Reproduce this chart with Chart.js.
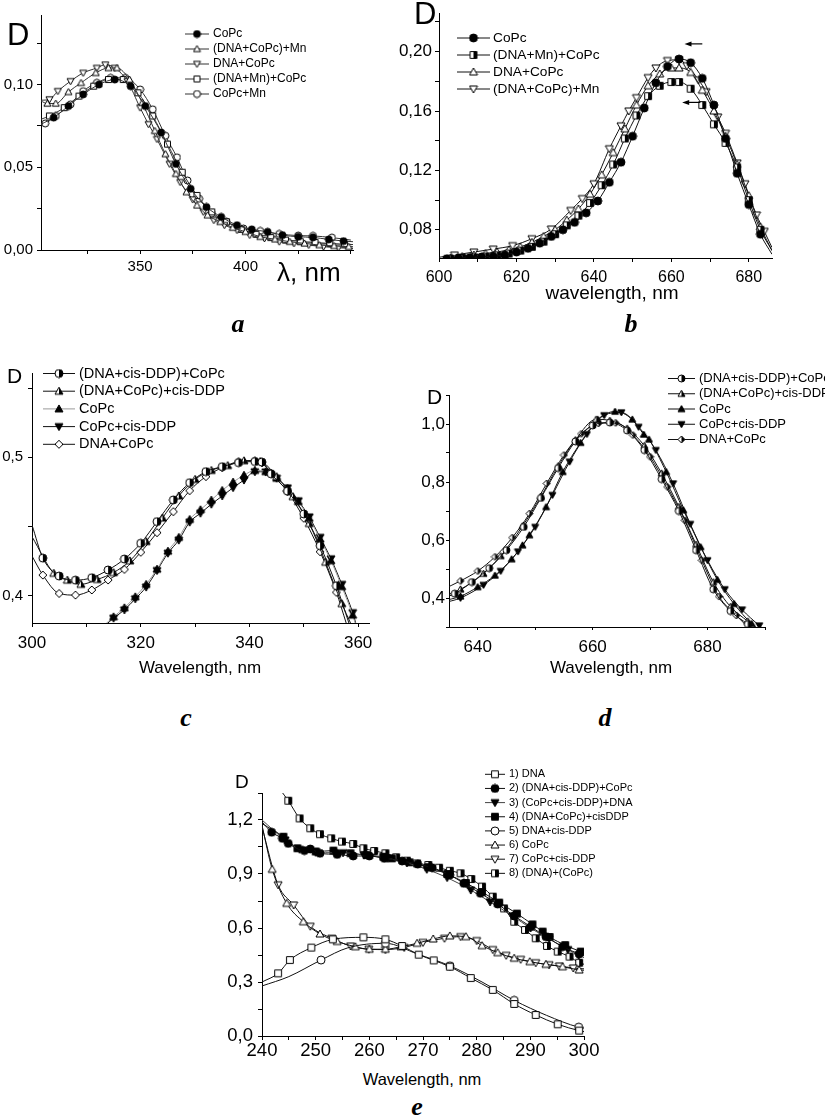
<!DOCTYPE html>
<html lang="en">
<head>
<meta charset="UTF-8">
<title>CoPc absorption spectra</title>
<script src="https://cdn.jsdelivr.net/npm/chart.js"></script>
<style>
  body { margin: 0; background: #fff; }
  #page { position: relative; width: 825px; height: 1119px; overflow: hidden; background: #fff; }
  canvas { position: absolute; }
  .lbl { position: absolute; white-space: nowrap; color: #000; line-height: 1; font-family: "Liberation Sans", Arial, sans-serif; }
  .letter { font-family: "Liberation Serif", "Times New Roman", serif; font-weight: bold; font-style: italic; }
</style>
</head>
<body>
<div id="page"></div>
<script>
// ---- panel a : 300-450 nm, Mn series
const aLabels = ['CoPc', '(DNA+CoPc)+Mn', 'DNA+CoPc', '(DNA+Mn)+CoPc', 'CoPc+Mn'];
const aXTicks = [350, 400];
const aYTicks = [0, 0.05, 0.10];
const aX1 = [303, 309, 316, 323, 330.5, 338, 345.5, 352.5, 360, 367, 374, 381.5, 388.5, 396, 403, 410.5, 417.5, 425, 432, 439.5, 446.5, 451];
const aY1 = [0.076, 0.080, 0.087, 0.094, 0.100, 0.103, 0.099, 0.087, 0.071, 0.052, 0.037, 0.026, 0.020, 0.015, 0.0125, 0.011, 0.009, 0.008, 0.0076, 0.0064, 0.0054, 0.005];
const aX2 = [303, 306, 310, 316, 322, 329, 335, 339, 345, 351, 357, 362, 367, 372, 377, 382, 388, 394, 400, 407, 414, 421, 428, 435, 442, 449, 451];
const aY2 = [0.090, 0.0885, 0.0885, 0.0955, 0.101, 0.107, 0.110, 0.110, 0.103, 0.089, 0.072, 0.058, 0.046, 0.035, 0.027, 0.021, 0.017, 0.0135, 0.011, 0.008, 0.0065, 0.005, 0.004, 0.003, 0.0025, 0.002, 0.002];
const aX3 = [303, 307, 311, 317, 323, 329.5, 333.5, 338, 344, 350, 354, 358, 364, 369, 375, 380, 385, 390, 396, 402, 409, 416, 423, 430, 437, 444, 451];
const aY3 = [0.0905, 0.091, 0.096, 0.102, 0.107, 0.110, 0.112, 0.110, 0.102, 0.086, 0.076, 0.067, 0.052, 0.041, 0.0305, 0.023, 0.018, 0.015, 0.012, 0.009, 0.007, 0.005, 0.004, 0.003, 0.002, 0.0013, 0.001];
const aX4 = [303, 307, 314, 321, 328, 335, 342, 349, 356, 363, 370, 377, 384, 391, 398, 405, 412, 419, 426, 433, 440, 447, 451];
const aY4 = [0.079, 0.081, 0.086, 0.093, 0.099, 0.103, 0.103, 0.095, 0.081, 0.064, 0.047, 0.033, 0.023, 0.017, 0.0125, 0.0095, 0.0075, 0.006, 0.005, 0.0045, 0.004, 0.0035, 0.0033];
const aX5 = [303, 305, 310, 317, 323, 329.5, 336, 343, 350, 356, 362, 367.5, 372.5, 378, 384, 391, 399, 407, 416, 425, 432, 441, 450];
const aY5 = [0.076, 0.0765, 0.081, 0.088, 0.096, 0.101, 0.104, 0.104, 0.097, 0.085, 0.069, 0.056, 0.042, 0.031, 0.022, 0.017, 0.013, 0.0115, 0.0097, 0.0087, 0.0085, 0.0075, 0.006];

// ---- panel b : Q band, Mn series
const bLabels = ['CoPc', '(DNA+Mn)+CoPc', 'DNA+CoPc', '(DNA+CoPc)+Mn'];
const bXTicks = [600, 620, 640, 660, 680];
const bYTicks = [0.08, 0.12, 0.16, 0.20];
const bX1 = [600, 602, 605, 608, 611, 614, 617, 620, 623, 626, 629, 632, 635, 638, 641, 644, 647, 650, 653, 656, 659, 662, 665, 668, 671, 674, 677, 680, 683, 686];
const bY1 = [0.060, 0.0605, 0.061, 0.0613, 0.0617, 0.0622, 0.063, 0.065, 0.0675, 0.071, 0.0755, 0.080, 0.085, 0.0914, 0.0994, 0.112, 0.1255, 0.143, 0.162, 0.179, 0.190, 0.195, 0.1925, 0.182, 0.164, 0.1415, 0.118, 0.097, 0.077, 0.0635];
const bX2 = [600, 603, 606, 609, 612, 615, 618, 621, 624, 627, 630, 633, 636, 639, 642, 645, 648, 651, 654, 657, 660, 662, 665, 668, 671, 674, 677, 680, 683, 686];
const bY2 = [0.060, 0.0605, 0.061, 0.0615, 0.062, 0.0628, 0.064, 0.066, 0.0685, 0.072, 0.077, 0.083, 0.0895, 0.098, 0.110, 0.124, 0.1415, 0.157, 0.170, 0.177, 0.1795, 0.1795, 0.175, 0.164, 0.151, 0.1385, 0.122, 0.100, 0.080, 0.066];
const bX3 = [600, 603, 606, 609, 612, 615, 618, 621, 624, 627, 630, 633, 636, 639, 642, 645, 648, 651, 654, 657, 660, 662, 665, 668, 671, 674, 677, 680, 683, 686];
const bY3 = [0.0605, 0.061, 0.062, 0.063, 0.064, 0.065, 0.0665, 0.0685, 0.0715, 0.0755, 0.080, 0.0865, 0.094, 0.104, 0.117, 0.132, 0.148, 0.164, 0.177, 0.185, 0.189, 0.189, 0.186, 0.174, 0.160, 0.143, 0.124, 0.103, 0.082, 0.066];
const bX4 = [600, 604, 609, 614, 619, 624, 629, 634, 637, 640, 644, 647, 649, 651, 654, 656, 659, 662, 664, 667, 669, 672, 674, 677, 679, 682, 684, 686];
const bY4 = [0.0615, 0.063, 0.065, 0.067, 0.0693, 0.074, 0.0805, 0.093, 0.101, 0.111, 0.1346, 0.150, 0.160, 0.169, 0.1825, 0.189, 0.194, 0.1945, 0.1905, 0.181, 0.173, 0.156, 0.145, 0.125, 0.111, 0.090, 0.079, 0.068];
const bArrowFrom = [668, 667.5];
const bArrowTo = [663.4, 662.8];
const bArrowY = [0.2052, 0.1658];

// ---- panel c : Soret region, cis-DDP series
const cLabels = ['(DNA+cis-DDP)+CoPc', '(DNA+CoPc)+cis-DDP', 'CoPc', 'CoPc+cis-DDP', 'DNA+CoPc'];
const cXTicks = [300, 320, 340, 360];
const cYTicks = [0.4, 0.5];
const cX1 = [300, 302, 305, 308, 311, 314, 317, 320, 323, 326, 329, 332, 335, 338, 341, 342.3, 344, 347, 350, 353, 356, 358.3];
const cY1 = [0.451, 0.427, 0.414, 0.411, 0.4128, 0.4184, 0.4263, 0.4377, 0.4534, 0.4691, 0.4816, 0.4896, 0.4932, 0.4961, 0.4969, 0.4965, 0.488, 0.4755, 0.459, 0.436, 0.407, 0.380];
const cX2 = [300, 304, 306.5, 309, 312, 315, 318, 321, 324, 327, 330, 333, 336, 339, 342, 345, 348, 351, 354, 357, 358.6];
const cY2 = [0.4425, 0.416, 0.411, 0.408, 0.4115, 0.4165, 0.425, 0.439, 0.456, 0.472, 0.484, 0.4905, 0.494, 0.4975, 0.497, 0.486, 0.4715, 0.452, 0.424, 0.394, 0.380];
const cX3 = [313.2, 315, 317, 319, 321, 323, 325, 327, 329, 331, 333, 335, 337, 339, 341, 343, 345, 347, 349, 351, 353, 355, 357, 359, 359.6];
const cY3 = [0.378, 0.3845, 0.391, 0.399, 0.408, 0.419, 0.432, 0.442, 0.455, 0.462, 0.469, 0.476, 0.482, 0.487, 0.4905, 0.4896, 0.4848, 0.4775, 0.4679, 0.4558, 0.4408, 0.4251, 0.4063, 0.3857, 0.378];
const cX4 = [313.4, 315, 317, 319, 321, 323, 325, 327, 329, 331, 333, 335, 337, 339, 341, 343, 345, 347, 349, 351, 353, 355, 357, 359, 359.7];
const cY4 = [0.378, 0.3835, 0.3895, 0.3975, 0.406, 0.418, 0.4305, 0.440, 0.453, 0.4595, 0.466, 0.472, 0.478, 0.4835, 0.4895, 0.4893, 0.4848, 0.4778, 0.4685, 0.4568, 0.442, 0.4265, 0.408, 0.3875, 0.378];
const cX5 = [300, 302, 305, 308, 311, 314, 317, 320, 323, 326, 329, 332, 335, 338, 341, 342.3, 344, 347, 350, 353, 356, 357.8];
const cY5 = [0.4285, 0.4147, 0.4014, 0.4002, 0.4039, 0.4111, 0.4188, 0.4312, 0.4454, 0.4606, 0.4758, 0.486, 0.4925, 0.4969, 0.4976, 0.496, 0.4884, 0.4751, 0.4558, 0.4316, 0.4022, 0.380];

// ---- panel d : Q band, cis-DDP series
const dLabels = ['(DNA+cis-DDP)+CoPc', '(DNA+CoPc)+cis-DDP', 'CoPc', 'CoPc+cis-DDP', 'DNA+CoPc'];
const dXTicks = [640, 660, 680];
const dYTicks = [0.4, 0.6, 0.8, 1.0];
const dX1 = [634, 636, 639, 642, 645, 648, 651, 654, 657, 660, 663, 666, 669, 672, 675, 678, 681, 684, 687, 689];
const dY1 = [0.40, 0.415, 0.455, 0.503, 0.565, 0.645, 0.745, 0.848, 0.94, 0.995, 1.005, 0.978, 0.91, 0.81, 0.70, 0.565, 0.43, 0.355, 0.31, 0.28];
const dX2 = [634, 637, 641, 644, 647.8, 651, 654, 657, 660.6, 663, 666, 669, 672, 675, 678, 681, 684, 687, 689];
const dY2 = [0.405, 0.43, 0.484, 0.545, 0.648, 0.75, 0.855, 0.945, 1.016, 1.012, 0.985, 0.925, 0.83, 0.715, 0.585, 0.455, 0.37, 0.32, 0.29];
const dX3 = [634, 637, 640, 643, 645.9, 647.8, 649, 651.9, 654.8, 657.9, 660.9, 663.9, 666.9, 668.9, 669.8, 672.8, 675.8, 678.8, 681.7, 684.6, 687.7, 690.5];
const dY3 = [0.39, 0.406, 0.438, 0.478, 0.534, 0.582, 0.617, 0.714, 0.835, 0.9355, 1.016, 1.043, 1.016, 0.964, 0.947, 0.835, 0.703, 0.576, 0.463, 0.38, 0.311, 0.27];
const dX4 = [634, 637, 641, 644, 647, 650, 653, 656, 659, 662, 665, 668, 671, 674, 677, 680, 683, 686, 689, 690.5];
const dY4 = [0.383, 0.40, 0.445, 0.493, 0.56, 0.645, 0.755, 0.87, 0.965, 1.03, 1.04, 0.99, 0.91, 0.795, 0.655, 0.53, 0.43, 0.36, 0.305, 0.28];
const dX5 = [634, 637, 640, 643, 646, 649, 652, 655, 658, 661, 664, 667, 670, 673, 676, 679, 682, 685, 688];
const dY5 = [0.43, 0.459, 0.493, 0.542, 0.608, 0.691, 0.795, 0.893, 0.966, 1.002, 1.004, 0.962, 0.887, 0.783, 0.668, 0.53, 0.405, 0.34, 0.28];

// ---- panel e : UV region, DNA series
const eLabels = ['1) DNA', '2) (DNA+cis-DDP)+CoPc', '3) (CoPc+cis-DDP)+DNA', '4) (DNA+CoPc)+cisDDP', '5) DNA+cis-DDP', '6) CoPc', '7) CoPc+cis-DDP', '8) (DNA)+(CoPc)'];
const eXTicks = [240, 250, 260, 270, 280, 290, 300];
const eYTicks = [0, 0.3, 0.6, 0.9, 1.2];
const eX1 = [240, 243, 245.2, 249.2, 253.2, 258.9, 263, 266.1, 269.2, 272, 275, 278.9, 283, 287, 291, 295.1, 299.1, 300.5];
const eY1 = [0.30, 0.348, 0.422, 0.491, 0.537, 0.548, 0.537, 0.50, 0.452, 0.42, 0.385, 0.322, 0.256, 0.178, 0.117, 0.065, 0.030, 0.022];
const eX2 = [240, 241.8, 243.8, 244.9, 247.9, 249, 250.8, 254, 257, 260, 262.8, 266.1, 269, 271.7, 275, 277.6, 280.7, 283.9, 287, 290.1, 292.9, 296, 299.1, 300.5];
const eY2 = [1.19, 1.132, 1.098, 1.07, 1.03, 1.039, 1.015, 1.009, 1.0, 1.0, 0.987, 0.972, 0.955, 0.935, 0.895, 0.848, 0.793, 0.733, 0.667, 0.607, 0.552, 0.496, 0.456, 0.44];
const eX3 = [240, 244.3, 247, 250, 253.6, 255.1, 259, 263.4, 267, 270.7, 274.5, 278.9, 282.5, 286.7, 290, 293.5, 297, 299, 300.5];
const eY3 = [1.2, 1.089, 1.037, 1.02, 1.018, 1.018, 1.005, 0.987, 0.962, 0.926, 0.88, 0.811, 0.745, 0.667, 0.6, 0.54, 0.48, 0.448, 0.43];
const eX4 = [240, 244, 246.6, 250, 253.3, 256.5, 259.5, 262.6, 264.2, 267.5, 271, 274.5, 278, 281, 284.2, 287.5, 290.4, 292.3, 293.6, 296.5, 299.4, 300.5];
const eY4 = [1.18, 1.107, 1.043, 1.025, 1.03, 1.015, 1.005, 0.996, 0.987, 0.965, 0.938, 0.90, 0.85, 0.80, 0.741, 0.68, 0.62, 0.58, 0.55, 0.505, 0.469, 0.46];
const eX5 = [240, 245, 251, 256, 263, 269, 275, 281, 287, 293, 299, 300.5];
const eY5 = [0.278, 0.33, 0.422, 0.49, 0.515, 0.455, 0.39, 0.30, 0.198, 0.115, 0.049, 0.042];
const eMarks5 = [2, 4, 6, 8, 10];
const eX6 = [240, 241.9, 244.6, 247.7, 250.8, 254, 257.4, 260, 263, 265.9, 268.9, 271.9, 275, 278, 281, 283.9, 287, 289.9, 292.9, 296, 299.1, 300.5];
const eY6 = [1.17, 0.926, 0.737, 0.635, 0.567, 0.525, 0.496, 0.482, 0.482, 0.496, 0.515, 0.539, 0.556, 0.552, 0.502, 0.463, 0.432, 0.413, 0.398, 0.385, 0.367, 0.365];
const eX7 = [240, 243, 245.9, 249, 253, 256.5, 259.9, 263, 266.5, 270, 274, 277, 280, 283, 285.5, 288.2, 291, 293.5, 295.4, 298, 300.5];
const eY7 = [1.16, 0.84, 0.728, 0.61, 0.543, 0.50, 0.482, 0.48, 0.492, 0.52, 0.543, 0.552, 0.53, 0.48, 0.448, 0.426, 0.407, 0.396, 0.389, 0.378, 0.372];
const eX8 = [243.6, 244.9, 247, 249, 250.8, 252.9, 254.9, 257, 258.9, 260.9, 263, 265, 267, 268.9, 271, 273, 275, 277, 279, 281, 283, 285.1, 287, 289, 291, 293.1, 295.1, 297.3, 299.1, 300.5];
const eY8 = [1.36, 1.307, 1.209, 1.154, 1.121, 1.098, 1.08, 1.067, 1.043, 1.028, 1.015, 0.993, 0.974, 0.959, 0.95, 0.935, 0.918, 0.904, 0.872, 0.83, 0.774, 0.709, 0.635, 0.589, 0.543, 0.5, 0.469, 0.441, 0.407, 0.395];

Chart.defaults.font.family = '"Liberation Sans", Arial, sans-serif';
Chart.defaults.color = '#000';

const page = document.getElementById('page');

// small canvases used as point styles (open, filled and half-filled symbols)
function marker(shape, fill, size) {
  const c = document.createElement('canvas');
  c.width = c.height = size + 2;
  const g = c.getContext('2d');
  const m = (size + 2) / 2, r = size / 2;
  const path = () => {
    g.beginPath();
    if (shape === 'circle') g.arc(m, m, r, 0, Math.PI * 2);
    else if (shape === 'square') g.rect(m - r * 0.85, m - r * 0.85, r * 1.7, r * 1.7);
    else if (shape === 'up') { g.moveTo(m, m - r); g.lineTo(m + r, m + r * 0.75); g.lineTo(m - r, m + r * 0.75); g.closePath(); }
    else if (shape === 'down') { g.moveTo(m, m + r); g.lineTo(m + r, m - r * 0.75); g.lineTo(m - r, m - r * 0.75); g.closePath(); }
    else if (shape === 'diamond') { g.moveTo(m, m - r); g.lineTo(m + r, m); g.lineTo(m, m + r); g.lineTo(m - r, m); g.closePath(); }
  };
  path();
  g.fillStyle = fill === 'black' ? '#000' : '#fff';
  g.fill();
  if (fill === 'half') {
    g.save(); path(); g.clip();
    g.fillStyle = '#000'; g.fillRect(m, 0, m + 1, size + 2);
    g.restore();
  }
  path();
  g.lineWidth = 1; g.strokeStyle = '#000'; g.stroke();
  return c;
}

function mkSeries(s, size) {
  const n = s.x.length;
  return {
    label: s.label,
    data: s.x.map((x, i) => ({ x: x, y: s.y[i] })),
    borderColor: s.color || '#111',
    borderWidth: 1,
    pointStyle: marker(s.shape, s.fill, size),
    pointRadius: c => (s.marks ? s.marks.includes(c.dataIndex) : (c.dataIndex > 0 && c.dataIndex < n - 1)) ? size / 2 : 0,
    cubicInterpolationMode: 'monotone',
    fill: false
  };
}

function axisOpts(o) {
  return {
    type: 'linear', min: o.min, max: o.max,
    border: { display: true, color: '#000', width: 1 },
    grid: { display: true, drawOnChartArea: false, drawTicks: true, tickLength: o.tick, tickColor: '#000', tickWidth: 1 },
    ticks: {
      stepSize: o.step, includeBounds: false, autoSkip: false, maxRotation: 0, minRotation: 0,
      padding: o.pad, color: '#000', font: { size: o.font },
      callback: v => o.labels.some(t => Math.abs(t - v) < 1e-9) ? v.toFixed(o.digits).replace('.', ',') : ''
    },
    afterFit: s => {
      if (o.isX) { s.height = o.size; s.paddingLeft = 0; s.paddingRight = 0; }
      else { s.width = o.size; s.paddingTop = 0; s.paddingBottom = 0; }
    }
  };
}

// legend: short line with the symbol in its middle, then the name
const lineLegend = {
  id: 'lineLegend',
  afterDraw(chart, args, o) {
    const ctx = chart.ctx;
    ctx.save();
    ctx.font = o.font + 'px "Liberation Sans", Arial, sans-serif';
    ctx.textBaseline = 'middle';
    ctx.fillStyle = '#000';
    chart.data.datasets.forEach((d, i) => {
      const y = o.y + i * o.dy;
      ctx.strokeStyle = d.borderColor; ctx.lineWidth = 1;
      ctx.beginPath(); ctx.moveTo(o.x, y); ctx.lineTo(o.x + o.len, y); ctx.stroke();
      const m = d.pointStyle;
      ctx.drawImage(m, o.x + o.len / 2 - m.width / 2, y - m.height / 2);
      ctx.fillText(d.label, o.x + o.len + o.gap, y);
    });
    ctx.restore();
  }
};

const arrows = {
  id: 'arrows',
  afterDatasetsDraw(chart) {
    const ctx = chart.ctx, xs = chart.scales.x, ys = chart.scales.y;
    ctx.save();
    ctx.strokeStyle = '#000'; ctx.fillStyle = '#000'; ctx.lineWidth = 1.2;
    bArrowY.forEach((v, i) => {
      const x0 = xs.getPixelForValue(bArrowFrom[i]);
      const x1 = xs.getPixelForValue(bArrowTo[i]);
      const py = ys.getPixelForValue(v);
      ctx.beginPath(); ctx.moveTo(x0, py); ctx.lineTo(x1 + 4, py); ctx.stroke();
      ctx.beginPath(); ctx.moveTo(x1, py); ctx.lineTo(x1 + 7, py - 2.5); ctx.lineTo(x1 + 7, py + 2.5); ctx.closePath(); ctx.fill();
    });
    ctx.restore();
  }
};

function makePanel(p) {
  const cv = document.createElement('canvas');
  cv.width = p.box.w; cv.height = p.box.h;
  cv.style.left = p.box.l + 'px'; cv.style.top = p.box.t + 'px';
  page.appendChild(cv);
  return new Chart(cv, {
    type: 'line',
    data: { datasets: p.series.map(s => mkSeries(s, p.mark)) },
    options: {
      responsive: false, animation: false, events: [],
      layout: { padding: { left: 0, bottom: 0, top: p.area.t - p.box.t, right: p.box.l + p.box.w - p.area.r } },
      scales: {
        x: axisOpts(Object.assign({}, p.x, { isX: true, size: p.box.t + p.box.h - p.area.b })),
        y: axisOpts(Object.assign({}, p.y, { isX: false, size: p.area.l - p.box.l }))
      },
      plugins: {
        legend: { display: false }, tooltip: { enabled: false },
        lineLegend: { x: p.leg.x - p.box.l, y: p.leg.y - p.box.t, dy: p.leg.dy, len: p.leg.len, gap: p.leg.gap, font: p.leg.font }
      }
    },
    plugins: [lineLegend].concat(p.plugins || [])
  });
}

function text(str, x, base, size, cls, center) {
  const d = document.createElement('div');
  d.className = 'lbl ' + (cls || '');
  d.textContent = str;
  d.style.fontSize = size + 'px';
  d.style.left = x + 'px';
  d.style.top = (base - 0.845 * size) + 'px';
  if (center) d.style.transform = 'translateX(-50%)';
  page.appendChild(d);
}

makePanel({
  box: { l: 0, t: 0, w: 400, h: 300 }, area: { l: 41, t: 15, r: 353, b: 250 }, mark: 7,
  x: { min: 303, max: 451, step: 25, labels: aXTicks, digits: 0, font: 15, tick: 4, pad: 4 },
  y: { min: 0, max: 0.142, step: 0.025, labels: aYTicks, digits: 2, font: 15, tick: 4, pad: 4 },
  leg: { x: 185, y: 34, dy: 15, len: 24, gap: 4, font: 12 },
  series: [
    { label: aLabels[0], x: aX1, y: aY1, shape: 'circle', fill: 'black', color: '#333' },
    { label: aLabels[1], x: aX2, y: aY2, shape: 'up', fill: 'white', color: '#333' },
    { label: aLabels[2], x: aX3, y: aY3, shape: 'down', fill: 'white', color: '#333' },
    { label: aLabels[3], x: aX4, y: aY4, shape: 'square', fill: 'white', color: '#333' },
    { label: aLabels[4], x: aX5, y: aY5, shape: 'circle', fill: 'white', color: '#333' }
  ]
});

makePanel({
  box: { l: 380, t: 0, w: 445, h: 305 }, area: { l: 439, t: 13, r: 772, b: 258 }, mark: 8,
  x: { min: 600, max: 686, step: 10, labels: bXTicks, digits: 0, font: 16, tick: 4, pad: 6 },
  y: { min: 0.061, max: 0.226, step: 0.02, labels: bYTicks, digits: 2, font: 17, tick: 4, pad: 3 },
  leg: { x: 457, y: 38, dy: 17, len: 33, gap: 3, font: 13.7 },
  series: [
    { label: bLabels[0], x: bX1, y: bY1, shape: 'circle', fill: 'black' },
    { label: bLabels[1], x: bX2, y: bY2, shape: 'square', fill: 'half' },
    { label: bLabels[2], x: bX3, y: bY3, shape: 'up', fill: 'white' },
    { label: bLabels[3], x: bX4, y: bY4, shape: 'down', fill: 'white' }
  ],
  plugins: [arrows]
});

makePanel({
  box: { l: 0, t: 340, w: 405, h: 340 }, area: { l: 32, t: 373, r: 369, b: 623 }, mark: 8,
  x: { min: 300, max: 362, step: 10, labels: cXTicks, digits: 0, font: 17, tick: 4, pad: 6 },
  y: { min: 0.38, max: 0.561, step: 0.05, labels: cYTicks, digits: 1, font: 15, tick: 4, pad: 5 },
  leg: { x: 43, y: 373.5, dy: 17.7, len: 32, gap: 4, font: 14.5 },
  series: [
    { label: cLabels[0], x: cX1, y: cY1, shape: 'circle', fill: 'half' },
    { label: cLabels[1], x: cX2, y: cY2, shape: 'up', fill: 'half' },
    { label: cLabels[2], x: cX3, y: cY3, shape: 'up', fill: 'black', color: '#9a9a9a' },
    { label: cLabels[3], x: cX4, y: cY4, shape: 'down', fill: 'black' },
    { label: cLabels[4], x: cX5, y: cY5, shape: 'diamond', fill: 'white' }
  ]
});

makePanel({
  box: { l: 405, t: 340, w: 420, h: 340 }, area: { l: 449, t: 395, r: 765, b: 627 }, mark: 7,
  x: { min: 635, max: 690, step: 10, labels: dXTicks, digits: 0, font: 17, tick: 3, pad: 7 },
  y: { min: 0.3, max: 1.1, step: 0.1, labels: dYTicks, digits: 1, font: 17, tick: 3, pad: 1 },
  leg: { x: 668, y: 378.5, dy: 15.25, len: 27, gap: 4, font: 13 },
  series: [
    { label: dLabels[0], x: dX1, y: dY1, shape: 'circle', fill: 'half' },
    { label: dLabels[1], x: dX2, y: dY2, shape: 'up', fill: 'half' },
    { label: dLabels[2], x: dX3, y: dY3, shape: 'up', fill: 'black' },
    { label: dLabels[3], x: dX4, y: dY4, shape: 'down', fill: 'black' },
    { label: dLabels[4], x: dX5, y: dY5, shape: 'diamond', fill: 'half' }
  ]
});

makePanel({
  box: { l: 215, t: 760, w: 460, h: 300 }, area: { l: 262, t: 793, r: 584, b: 1036 }, mark: 8,
  x: { min: 240, max: 300, step: 5, labels: eXTicks, digits: 0, font: 18.5, tick: 4, pad: 0 },
  y: { min: 0, max: 1.35, step: 0.15, labels: eYTicks, digits: 1, font: 18.5, tick: 4, pad: 5 },
  leg: { x: 485, y: 774.3, dy: 14.15, len: 20, gap: 4, font: 11 },
  series: [
    { label: eLabels[0], x: eX1, y: eY1, shape: 'square', fill: 'white' },
    { label: eLabels[1], x: eX2, y: eY2, shape: 'circle', fill: 'black' },
    { label: eLabels[2], x: eX3, y: eY3, shape: 'down', fill: 'black', color: '#444' },
    { label: eLabels[3], x: eX4, y: eY4, shape: 'square', fill: 'black' },
    { label: eLabels[4], x: eX5, y: eY5, shape: 'circle', fill: 'white', marks: eMarks5 },
    { label: eLabels[5], x: eX6, y: eY6, shape: 'up', fill: 'white' },
    { label: eLabels[6], x: eX7, y: eY7, shape: 'down', fill: 'white' },
    { label: eLabels[7], x: eX8, y: eY8, shape: 'square', fill: 'half' }
  ]
});

// axis names and panel letters
text('D', 7, 45, 31);
text('λ, nm', 277, 281, 26);
text('D', 414, 24, 31);
text('wavelength, nm', 612, 299, 19, '', true);
text('D', 7, 383, 21);
text('Wavelength, nm', 200, 673, 17, '', true);
text('D', 427, 404, 21);
text('Wavelength, nm', 611, 673, 17, '', true);
text('D', 235, 788, 19);
text('Wavelength, nm', 422, 1085, 16.5, '', true);
text('a', 238, 333, 26, 'letter', true);
text('b', 631, 333, 26, 'letter', true);
text('c', 186, 727, 26, 'letter', true);
text('d', 605, 727, 26, 'letter', true);
text('e', 417, 1116, 26, 'letter', true);
</script>
</body>
</html>
